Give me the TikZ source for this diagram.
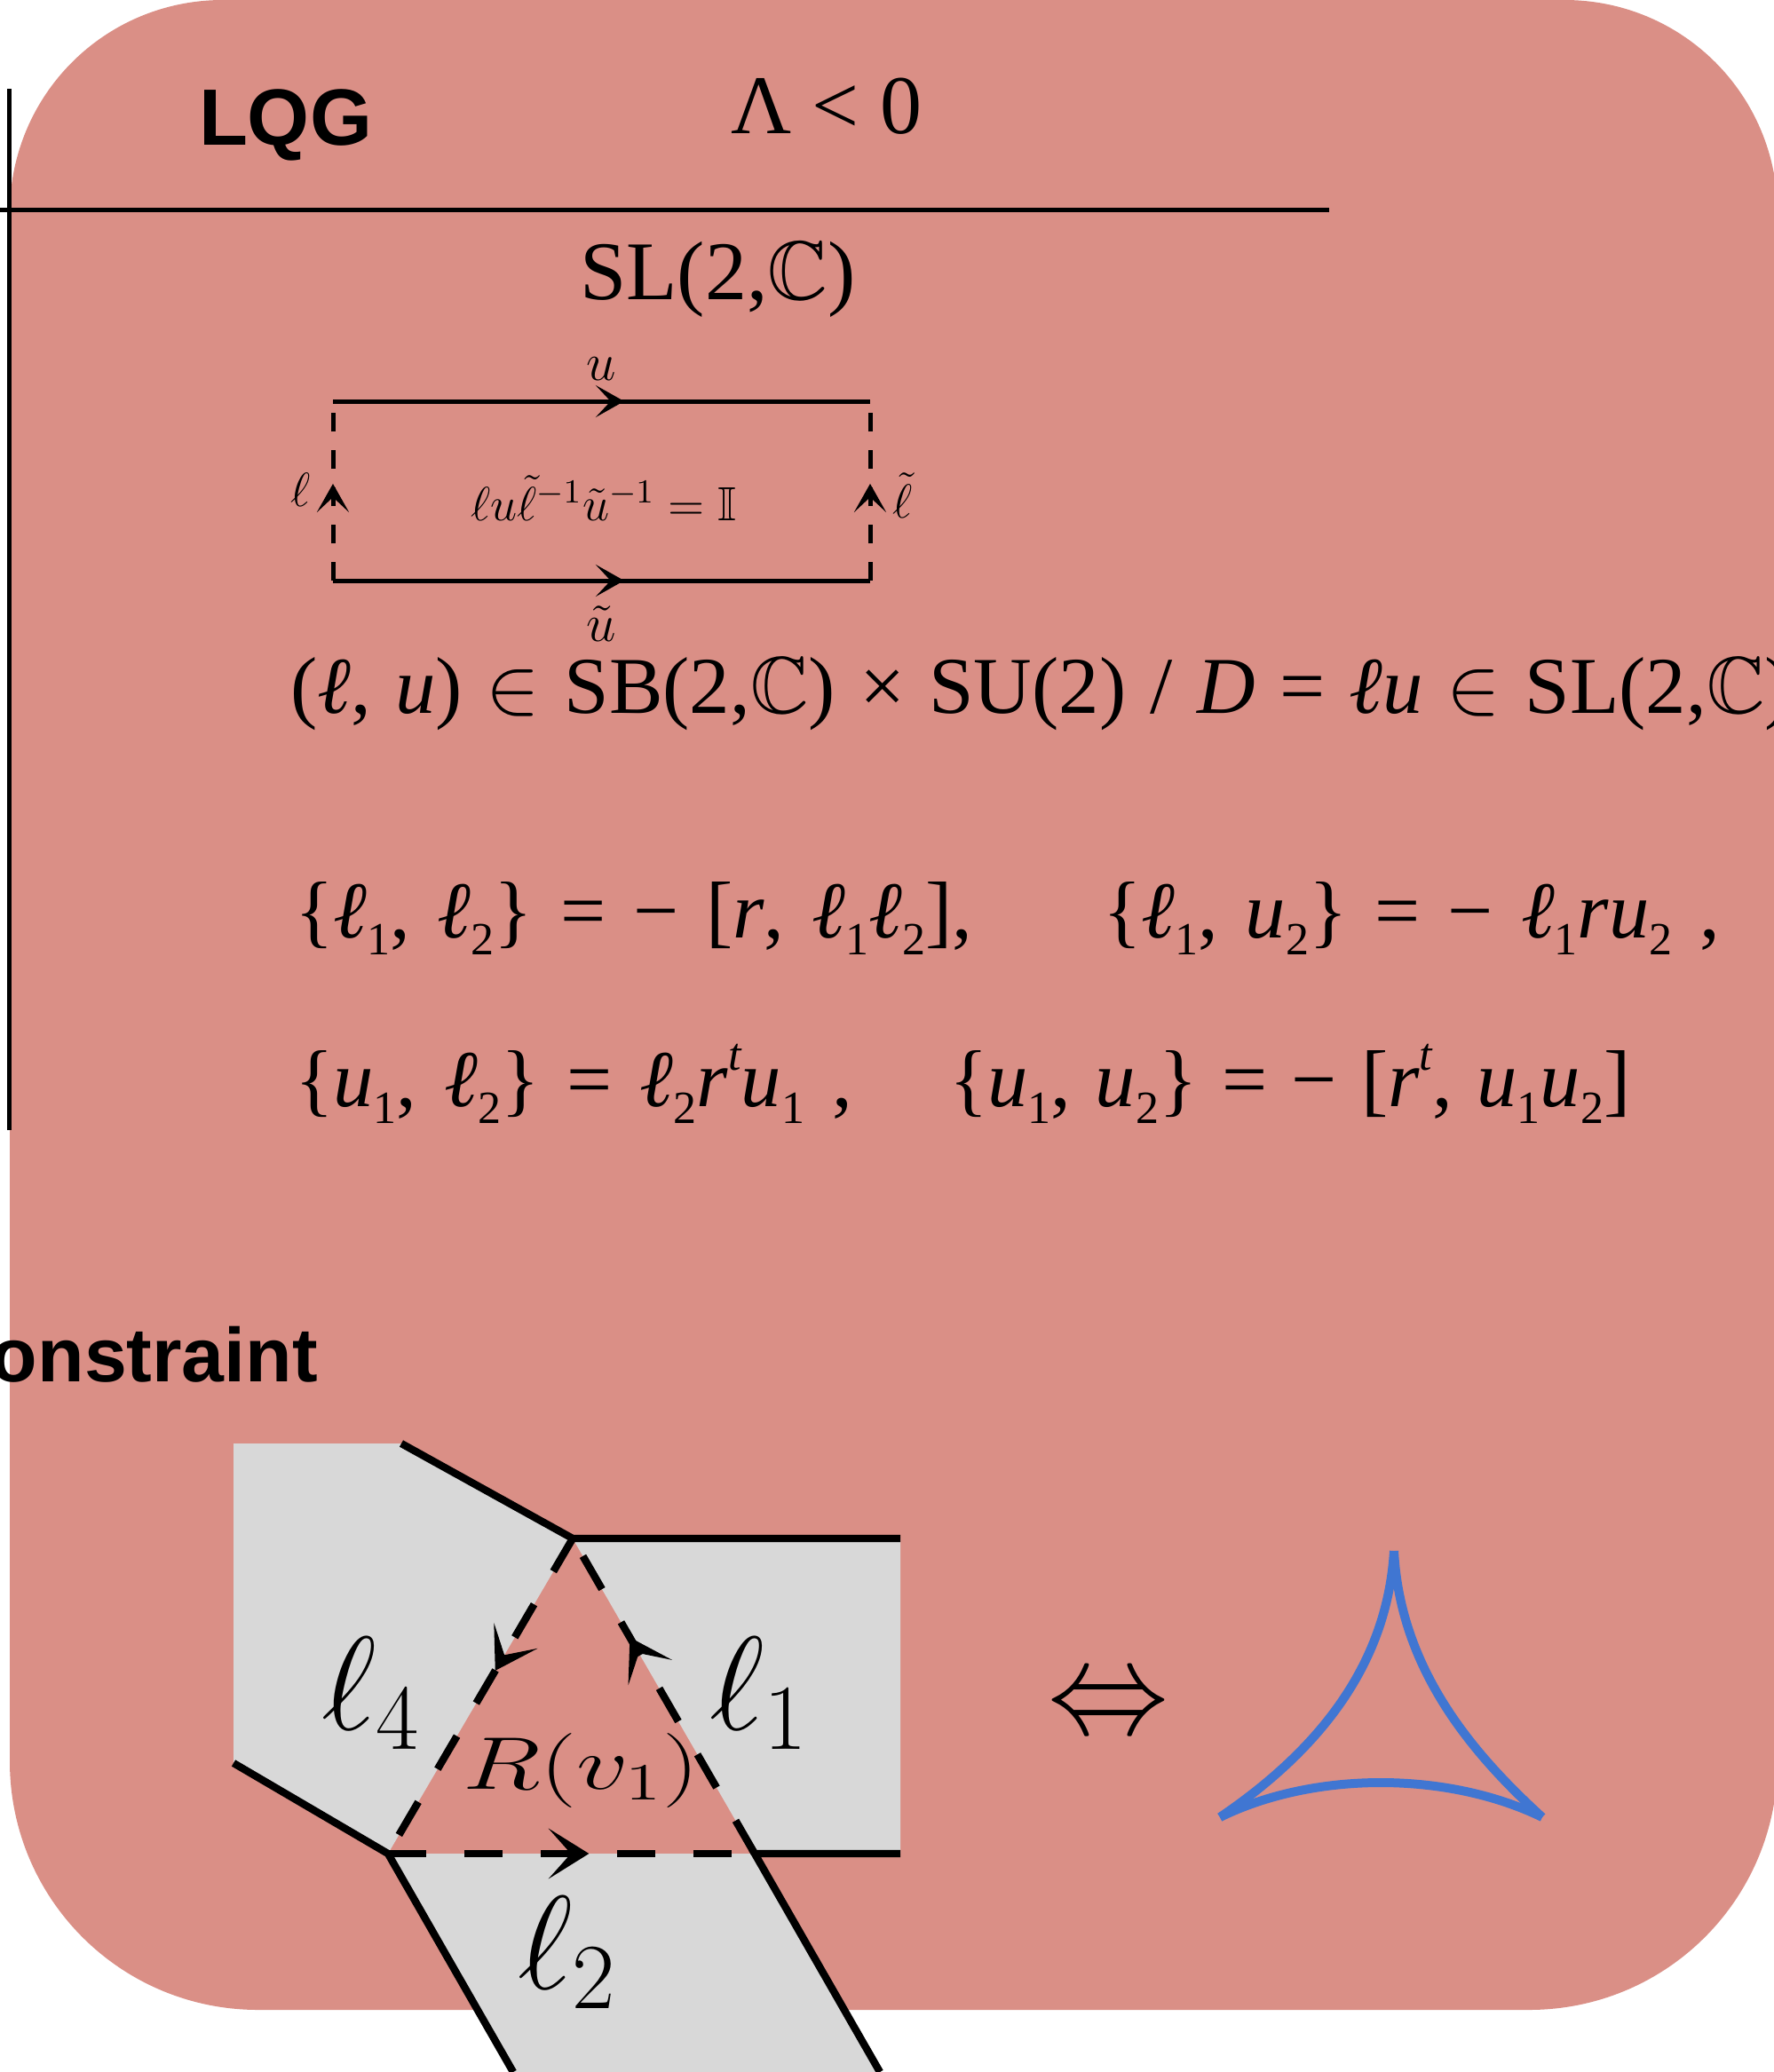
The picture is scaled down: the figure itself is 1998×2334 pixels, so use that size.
\RequirePackage{fix-cm}
\documentclass[tikz,border=0pt]{standalone}
\usepackage{amssymb}
\usepackage{graphicx}
\usepackage[no-math]{fontspec}
\setmainfont{Liberation Serif}
\newfontfamily\hsansfont{Liberation Sans}
\usetikzlibrary{arrows.meta,decorations.markings}
\definecolor{pinkbg}{RGB}{218,143,134}
\definecolor{grayfill}{RGB}{216,216,216}
\definecolor{bluecurve}{RGB}{64,118,210}
\newcommand{\Ell}{\textit{ℓ}}
\newcommand{\lsub}[1]{\raisebox{-0.22em}{\fontsize{13pt}{14pt}\selectfont #1}}
\newcommand{\lsup}[1]{\raisebox{0.45em}{\fontsize{13pt}{14pt}\selectfont\itshape #1}}
\newcommand{\eqsetA}{\fontsize{22.7pt}{27pt}\selectfont\spaceskip 0.30em\relax}
\newcommand{\eqsetB}{\fontsize{22.7pt}{27pt}\selectfont\spaceskip 0.34em\relax}
\begin{document}
\begin{tikzpicture}[x=0.25pt,y=-0.25pt,
  lbl/.style={inner sep=0pt, outer sep=0pt},
  eqfonta/.style={font=\eqsetA},
  eqfont/.style={font=\eqsetB},
  frameline/.style={line width=1.25pt},
  edge/.style={line width=2.1pt},
  dashedge/.style={line width=2.1pt, dash pattern=on 10.75pt off 10.75pt},
  rectsolid/.style={line width=1.25pt},
  rectdash/.style={line width=1.25pt, dash pattern=on 5.25pt off 5.25pt},
  bigarrow/.style={postaction={decorate}, decoration={markings, mark=at position #1 with {\arrow{Stealth[length=11.4pt,width=14.2pt,inset=6.3pt]}}}},
  smallarrow/.style={postaction={decorate}, decoration={markings, mark=at position #1 with {\arrow{Stealth[length=8pt,width=9pt,inset=4.2pt]}}}},
  bluestroke/.style={draw=bluecurve, line width=2.5pt, line cap=butt}
]
\useasboundingbox (0,0) rectangle (1998,2334);
% background panel
\fill[pinkbg] (11,240) .. controls (11,107) and (118,0) .. (251,0)
  -- (1762,0) .. controls (1895,0) and (2002,107) .. (2002,240)
  -- (2002,1984) .. controls (2002,2139) and (1877,2264) .. (1722,2264)
  -- (291,2264) .. controls (136,2264) and (11,2139) .. (11,1984) -- cycle;

% table lines
\coordinate (vtop) at (10,100);
\coordinate (vbot) at (10,1273);
\coordinate (hl) at (0,236);
\coordinate (hr) at (1497,236);
\draw[frameline] (vtop) -- (vbot);
\draw[frameline] (hl) -- (hr);

% header texts
\node[lbl, anchor=base west, font=\fontsize{22.5pt}{27pt}\selectfont\hsansfont\bfseries] (lqg) at (224,163) {LQG};
\node[lbl, anchor=base west, font=\fontsize{23.5pt}{28pt}\selectfont] (lam) at (823,150) {Λ < 0};
\node[lbl, anchor=base west, font=\fontsize{23.5pt}{28pt}\selectfont] (slc) at (653,337) {SL(2,$\mathbb{C}$)};

% rectangle diagram
\coordinate (A) at (375,452);
\coordinate (B) at (980,452);
\coordinate (C) at (375,654);
\coordinate (D) at (980,654);
\draw[rectsolid, smallarrow=0.542] (A) -- (B);
\draw[rectsolid, smallarrow=0.542] (C) -- (D);
\draw[rectdash, smallarrow=0.54] (C) -- (A);
\draw[rectdash, smallarrow=0.54] (D) -- (B);
\node[lbl, anchor=base, font=\fontsize{15pt}{18pt}\selectfont] (ulab) at (677,428) {$u$};
\node[lbl, anchor=base, font=\fontsize{15pt}{18pt}\selectfont] (utlab) at (677,722) {$\tilde{u}$};
\node[lbl, anchor=base east, font=\fontsize{13.5pt}{16pt}\selectfont] (llab) at (350,570) {$\ell$};
\node[lbl, anchor=base west, font=\fontsize{13.5pt}{16pt}\selectfont] (ltlab) at (1005,583) {$\tilde{\ell}$};
\node[lbl, anchor=base west, font=\fontsize{13.5pt}{16pt}\selectfont] (loop) at (530,586) {$\ell u\tilde{\ell}^{-1}\tilde{u}^{-1}=\mathbb{I}$};

% equations
\node[lbl, anchor=base west, eqfonta] (eqa) at (327,803)
  {(\Ell, \textit{u}) $\in$ SB(2,$\mathbb{C}$) × SU(2) / \textit{D} = \Ell\textit{u} $\in$ SL(2,$\mathbb{C}$)};
\node[lbl, anchor=base west, eqfont] (eqb1) at (332,1056)
  {\{\Ell\lsub{1}, \Ell\lsub{2}\} = − [\textit{r}, \Ell\lsub{1}\Ell\lsub{2}],};
\node[lbl, anchor=base west, eqfont] (eqb2) at (1242,1056)
  {\{\Ell\lsub{1}, \textit{u}\lsub{2}\} = − \Ell\lsub{1}\textit{ru}\lsub{2} ,};
\node[lbl, anchor=base west, eqfont] (eqc1) at (332,1246)
  {\{\textit{u}\lsub{1}, \Ell\lsub{2}\} = \Ell\lsub{2}\textit{r}\lsup{t}\textit{u}\lsub{1} ,};
\node[lbl, anchor=base west, eqfonta] (eqc2) at (1069,1246)
  {\{\textit{u}\lsub{1}, \textit{u}\lsub{2}\} = − [\textit{r}\lsup{t}, \textit{u}\lsub{1}\textit{u}\lsub{2}]};

% constraint label
\node[lbl, anchor=base west, font=\fontsize{21.5pt}{26pt}\selectfont\hsansfont\bfseries] (cons) at (-10,1556) {onstraint};

% ribbon graph
\coordinate (T) at (645,1733);
\coordinate (BL) at (437,2088);
\coordinate (BR) at (850,2088);
\coordinate (LTop) at (452,1626);
\coordinate (LCornerTop) at (263,1626);
\coordinate (LCornerBot) at (263,1986);
\coordinate (RTop) at (1014,1733);
\coordinate (RBot) at (1014,2088);
\coordinate (SBL) at (578,2334);
\coordinate (SBR) at (991,2334);
\fill[grayfill] (LCornerTop) -- (LTop) -- (T) -- (BL) -- (LCornerBot) -- cycle;
\fill[grayfill] (T) -- (RTop) -- (RBot) -- (BR) -- cycle;
\fill[grayfill] (BL) -- (BR) -- (SBR) -- (SBL) -- cycle;
\draw[edge] (LTop) -- (T) -- (RTop);
\draw[edge] (LCornerBot) -- (BL) -- (SBL);
\draw[edge] (RBot) -- (BR) -- (SBR);
\draw[dashedge, bigarrow=0.42] (T) -- (BL);
\draw[dashedge, bigarrow=0.548] (BL) -- (BR);
\draw[dashedge, bigarrow=0.687] (BR) -- (T);
\node[lbl, anchor=base west, font=\fontsize{37.5pt}{40pt}\selectfont] (l4) at (362,1948) {$\ell_4$};
\node[lbl, anchor=base west, font=\fontsize{37.5pt}{40pt}\selectfont] (l1) at (799,1948) {$\ell_1$};
\node[lbl, anchor=base west, font=\fontsize{37.5pt}{40pt}\selectfont] (l2) at (583,2240) {$\ell_2$};
\node[lbl, anchor=base west, font=\fontsize{21pt}{24pt}\selectfont] (rv) at (521,2015) {\scalebox{1.38}[1]{$R(v_1)$}};

% equivalence
\node[lbl, anchor=center, font=\fontsize{34pt}{36pt}\selectfont] (equiv) at (1248,1925) {\scalebox{1}[1.1]{$\Leftrightarrow$}};

% curved triangle
\coordinate (CT) at (1570,1747);
\coordinate (CL) at (1374,2047);
\coordinate (CR) at (1737,2047);
\draw[bluestroke] (CT) .. controls (1562,1880) and (1480,1975) .. (CL);
\draw[bluestroke] (CT) .. controls (1577,1880) and (1658,1975) .. (CR);
\draw[bluestroke] (CL) .. controls (1480,1995) and (1630,1995) .. (CR);
\end{tikzpicture}
\end{document}
